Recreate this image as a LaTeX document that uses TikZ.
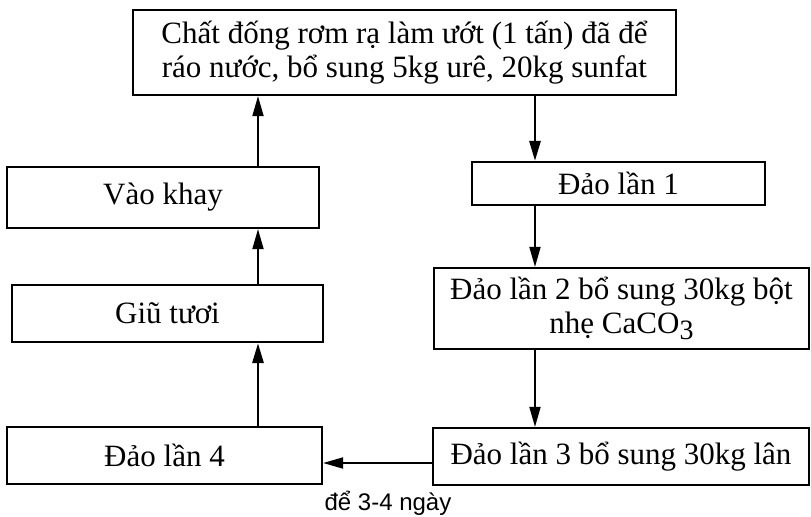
\documentclass[tikz,border=0pt]{standalone}
\usepackage{fontspec}
\setmainfont{Liberation Serif}
\newfontfamily\notefont{Liberation Sans}
\usetikzlibrary{arrows.meta}

\begin{document}
\begin{tikzpicture}[x=0.5pt,y=-0.5pt,
  box/.style={draw,line width=1.1pt,align=center,inner sep=0pt,font=\fontsize{15.5}{17}\selectfont},
  arr/.style={-{Triangle[length=10pt,width=5.5pt]},line width=0.9pt},
  bigarr/.style={arr,line width=1.4pt}]
  \useasboundingbox (0,0) rectangle (811,516);
  \coordinate (lcol) at (258,0);
  \coordinate (rcol) at (535,0);
  \coordinate (brow) at (0,463);
  \node[box,minimum width=271.5pt,minimum height=42.5pt] (start) at (404.5,52.5)
    {Chất đống rơm rạ làm ướt (1 tấn) đã để\\ráo nước, bổ sung 5kg urê, 20kg sunfat};
  \node[box,minimum width=146.5pt,minimum height=21.5pt] (dao1) at (618.5,183.5) {Đảo lần 1};
  \node[box,minimum width=187.5pt,minimum height=40.5pt] (dao2) at (621.5,308.5)
    {Đảo lần 2 bổ sung 30kg bột\\nhẹ CaCO\raisebox{-0.45ex}{\fontsize{14}{15}\selectfont 3}};
  \node[box,minimum width=188pt,minimum height=28.5pt] (dao3) at (621,456.5) {Đảo lần 3 bổ sung 30kg lân};
  \node[box,minimum width=157.5pt,minimum height=28.5pt] (dao4) at (164.5,455.5) {Đảo lần 4};
  \node[box,minimum width=155.5pt,minimum height=28.5pt] (tuoi) at (167.5,313.5) {Giũ tươi};
  \node[box,minimum width=156pt,minimum height=30.5pt] (khay) at (163,197.5) {Vào khay};
  \node[font=\notefont\fontsize{12}{14}\selectfont] (wait) at (388,503) {để 3-4 ngày};
  \draw[bigarr] (start.south -| rcol) -- (dao1.north -| rcol);
  \draw[arr] (dao1.south -| rcol) -- (dao2.north -| rcol);
  \draw[arr] (dao2.south -| rcol) -- (dao3.north -| rcol);
  \draw[arr] (dao3.west |- brow) -- (dao4.east |- brow);
  \draw[bigarr] (dao4.north -| lcol) -- (tuoi.south -| lcol);
  \draw[arr] (tuoi.north -| lcol) -- (khay.south -| lcol);
  \draw[arr] (khay.north -| lcol) -- (start.south -| lcol);
\end{tikzpicture}
\end{document}
